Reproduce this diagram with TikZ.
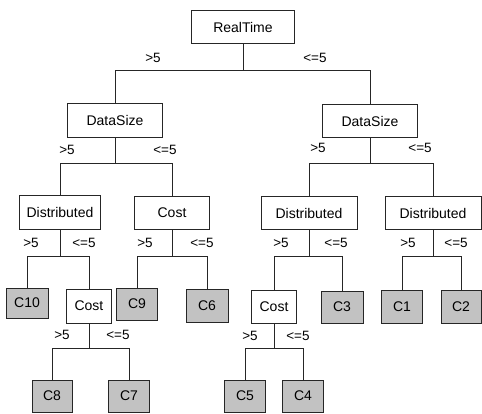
\documentclass[tikz,border=0pt]{standalone}
\usepackage{fontspec}
\setmainfont{Liberation Sans}
\begin{document}
\begin{tikzpicture}[x=1pt,y=-1pt,
  every node/.style={font=\fontsize{14}{16}\selectfont, inner sep=0pt},
  box/.style={draw=black!85, line width=0.7pt, fill=white},
  leaf/.style={draw=black!85, line width=0.7pt, fill=black!24},
  lab/.style={font=\fontsize{13.5}{15}\selectfont},
  conn/.style={draw=black!85, line width=0.7pt}]
\useasboundingbox (0,0) rectangle (482,413);
% internal nodes
\node[box, minimum width=103, minimum height=33] (rt) at (243,27) {RealTime};
\node[box, minimum width=95, minimum height=34] (ds1) at (115,120) {DataSize};
\node[box, minimum width=95, minimum height=33] (ds2) at (370,121) {DataSize};
\node[box, minimum width=81, minimum height=34] (d1) at (60,212) {Distributed};
\node[box, minimum width=75, minimum height=33] (cost1) at (172,213) {Cost};
\node[box, minimum width=96, minimum height=33] (d2) at (309,213) {Distributed};
\node[box, minimum width=96, minimum height=33] (d3) at (433,213) {Distributed};
\node[box, minimum width=45, minimum height=34] (cost2) at (89,306) {Cost};
\node[box, minimum width=45, minimum height=33] (cost3) at (274,307) {Cost};
% leaves
\node[leaf, minimum width=42, minimum height=30] (c10) at (27,303) {C10};
\node[leaf, minimum width=41, minimum height=32] (c9) at (137,304) {C9};
\node[leaf, minimum width=42, minimum height=33] (c6) at (207,306) {C6};
\node[leaf, minimum width=42, minimum height=32] (c3) at (342,307) {C3};
\node[leaf, minimum width=41, minimum height=33] (c1) at (402,307) {C1};
\node[leaf, minimum width=40, minimum height=33] (c2) at (461,307) {C2};
\node[leaf, minimum width=40, minimum height=32] (c8) at (52,396) {C8};
\node[leaf, minimum width=41, minimum height=32] (c7) at (129,396) {C7};
\node[leaf, minimum width=41, minimum height=32] (c5) at (245,396) {C5};
\node[leaf, minimum width=41, minimum height=32] (c4) at (303,396) {C4};
% connectors
\coordinate (b0) at (rt.south |- 0,70);
\draw[conn] (rt.south) -- (b0) -| (ds1.north);
\draw[conn] (b0) -| (ds2.north);
\coordinate (b1) at (ds1.south |- 0,163);
\draw[conn] (ds1.south) -- (b1) -| (d1.north);
\draw[conn] (b1) -| (cost1.north);
\coordinate (b2) at (ds2.south |- 0,163);
\draw[conn] (ds2.south) -- (b2) -| (d2.north);
\draw[conn] (b2) -| (d3.north);
\coordinate (b3) at (d1.south |- 0,256);
\draw[conn] (d1.south) -- (b3) -| (c10.north);
\draw[conn] (b3) -| (cost2.north);
\coordinate (b4) at (cost1.south |- 0,256);
\draw[conn] (cost1.south) -- (b4) -| (c9.north);
\draw[conn] (b4) -| (c6.north);
\coordinate (b5) at (d2.south |- 0,256);
\draw[conn] (d2.south) -- (b5) -| (cost3.north);
\draw[conn] (b5) -| (c3.north);
\coordinate (b6) at (d3.south |- 0,256);
\draw[conn] (d3.south) -- (b6) -| (c1.north);
\draw[conn] (b6) -| (c2.north);
\coordinate (b7) at (cost2.south |- 0,348);
\draw[conn] (cost2.south) -- (b7) -| (c8.north);
\draw[conn] (b7) -| (c7.north);
\coordinate (b8) at (cost3.south |- 0,348);
\draw[conn] (cost3.south) -- (b8) -| (c5.north);
\draw[conn] (b8) -| (c4.north);
% labels
\node[lab] (l1) at (153,58) {>5};
\node[lab] (l2) at (315,58) {<=5};
\node[lab] (l3) at (67,150) {>5};
\node[lab] (l4) at (165,150) {<=5};
\node[lab] (l5) at (318,148) {>5};
\node[lab] (l6) at (420,148) {<=5};
\node[lab] (l7) at (31,243) {>5};
\node[lab] (l8) at (84,243) {<=5};
\node[lab] (l9) at (145,243) {>5};
\node[lab] (l10) at (202,243) {<=5};
\node[lab] (l11) at (281,243) {>5};
\node[lab] (l12) at (336,243) {<=5};
\node[lab] (l13) at (408,243) {>5};
\node[lab] (l14) at (456,243) {<=5};
\node[lab] (l15) at (62,335) {>5};
\node[lab] (l16) at (118,335) {<=5};
\node[lab] (l17) at (250,336) {>5};
\node[lab] (l18) at (298,336) {<=5};
\end{tikzpicture}
\end{document}
